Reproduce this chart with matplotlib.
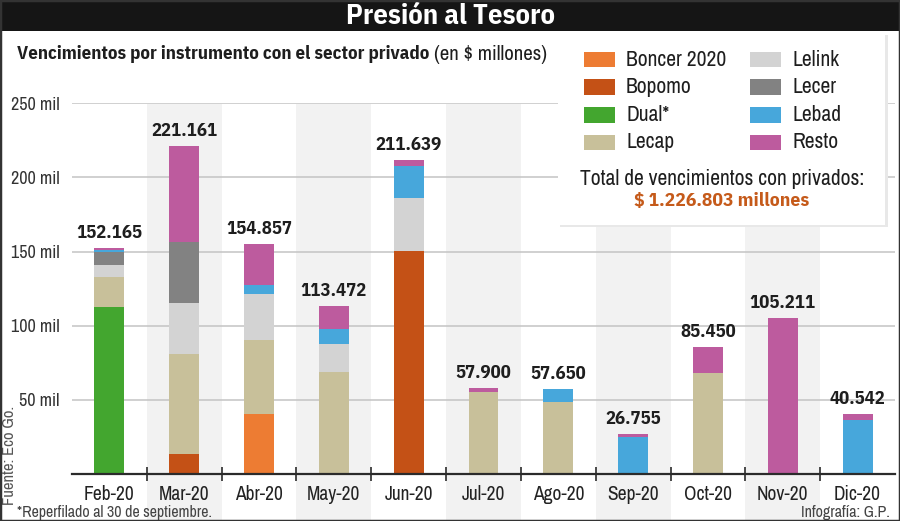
import numpy as np
import matplotlib
matplotlib.use('Agg')
import matplotlib.pyplot as plt
from matplotlib.patches import Rectangle

plt.rcParams['font.family'] = ['Archivo Narrow', 'DejaVu Sans']
NEGRITA = ['IBM Plex Sans Condensed', 'DejaVu Sans']

# datos (miles de millones de $)
meses = ['Feb-20', 'Mar-20', 'Abr-20', 'May-20', 'Jun-20', 'Jul-20',
         'Ago-20', 'Sep-20', 'Oct-20', 'Nov-20', 'Dic-20']
boncer = [0, 0, 40.3, 0, 0, 0, 0, 0, 0, 0, 0]
bopomo = [0, 13.3, 0, 0, 150.3, 0, 0, 0, 0, 0, 0]
dual = [112.4, 0, 0, 0, 0, 0, 0, 0, 0, 0, 0]
lecap = [20.7, 67.4, 50.0, 68.9, 0, 55.4, 48.6, 0, 67.8, 0, 0]
lelink = [7.9, 34.8, 30.9, 18.7, 36.0, 0, 0, 0, 0, 0, 0]
lecer = [9.0, 40.9, 0, 0, 0, 0, 0, 0, 0, 0, 0]
lebad = [1.3, 0, 6.5, 10.0, 21.1, 0, 8.6, 25.0, 0, 0, 36.3]
resto = [0.865, 64.861, 27.157, 15.872, 4.239, 2.5, 0.45, 1.755, 17.65, 105.211, 4.242]
totales = ['152.165', '221.161', '154.857', '113.472', '211.639', '57.900',
           '57.650', '26.755', '85.450', '105.211', '40.542']

series = [('Boncer 2020', boncer, '#ED7C33'),
          ('Bopomo', bopomo, '#C45116'),
          ('Dual*', dual, '#43A62F'),
          ('Lecap', lecap, '#C8C09A'),
          ('Lelink', lelink, '#D3D3D3'),
          ('Lecer', lecer, '#828282'),
          ('Lebad', lebad, '#47A7DB'),
          ('Resto', resto, '#BD5B9E')]

W, H = 900, 521
fig = plt.figure(figsize=(9, 5.21), dpi=100)


def px(x, y):
    return x / W, 1 - y / H


# ejes
y0, y250 = 474, 103.3
ax = fig.add_axes([72 / W, 1 - y0 / H, (895 - 72) / W, (y0 - y250) / H])
ax.set_xlim(-0.5, len(meses) - 0.5)
ax.set_ylim(0, 250)
for s in ax.spines.values():
    s.set_visible(False)
ax.patch.set_alpha(0)

x = np.arange(len(meses))
for i in x:
    if i % 2 == 1:
        ax.axvspan(i - 0.5, i + 0.5, ymin=-0.13, ymax=0.997, color='#F2F2F2',
                   lw=0, zorder=0, clip_on=False)

for v in [50, 100, 150, 200, 250]:
    ax.axhline(v, color='#C4C4C4', lw=1.1, zorder=1)
ax.set_yticks([50, 100, 150, 200, 250])
ax.set_yticklabels(['50 mil', '100 mil', '150 mil', '200 mil', '250 mil'])
ax.tick_params(axis='y', length=0, pad=9, labelsize=13, labelcolor='#333333')

bottom = np.zeros(len(meses))
for nombre, vals, color in series:
    vals = np.array(vals)
    ax.bar(x, vals, 0.4, bottom=bottom, color=color, zorder=3, lw=0)
    bottom += vals

for i, t in enumerate(totales):
    ax.text(x[i], bottom[i] + 4.0, t, ha='center', va='bottom', fontsize=13.5,
            fontweight='bold', family=NEGRITA, color='#1E1E1E', zorder=5)

ax.axhline(0, color='#2B2B2B', lw=1.6, zorder=4, clip_on=False)
ax.set_xticks(x)
ax.set_xticklabels(meses)
ax.set_xticks(x[:-1] + 0.5, minor=True)
ax.tick_params(axis='x', which='major', length=0, pad=8, labelsize=14,
               labelcolor='#222222')
ax.tick_params(axis='x', which='minor', direction='inout', length=10,
               width=1.2, color='#2B2B2B')

# barra de titulo
fig.patches.append(Rectangle(px(0, 31), 1, 31 / H, transform=fig.transFigure,
                             facecolor='#151515', edgecolor='none', zorder=0))
fig.text(*px(450, 16), 'Presión al Tesoro', ha='center', va='center',
         fontsize=20.5, fontweight='bold', family=NEGRITA, color='white')

sub = fig.text(*px(17, 54), 'Vencimientos por instrumento con el sector privado',
               ha='left', va='center', fontsize=13.5, fontweight='bold',
               family=NEGRITA, color='#1E1E1E')
r = fig.canvas.get_renderer()
bb = sub.get_window_extent(renderer=r)
fig.text((bb.x1 + 5) / W, 1 - 54 / H, '(en $ millones)', ha='left',
         va='center', fontsize=15, color='#1E1E1E')

# leyenda
fig.patches.append(Rectangle(px(560, 227), (885 - 557) / W, (227 - 35) / H,
                             transform=fig.transFigure, facecolor='#E8E8E8',
                             edgecolor='none', zorder=6))
fig.patches.append(Rectangle(px(558, 225), (885 - 558) / W, (225 - 33) / H,
                             transform=fig.transFigure, facecolor='white',
                             edgecolor='none', zorder=7))
filas = [60, 87, 115, 142]
for k, (nombre, vals, color) in enumerate(series):
    col, fila = divmod(k, 4)
    xp = 584 if col == 0 else 750
    yc = filas[fila]
    fig.patches.append(Rectangle(px(xp, yc + 7.5), 31 / W, 15 / H,
                                 transform=fig.transFigure, facecolor=color,
                                 edgecolor='none', zorder=8))
    fig.text(*px(xp + 42, yc), nombre, ha='left', va='center', fontsize=15.5,
             color='#1E1E1E', zorder=9)
fig.text(*px(722, 179), 'Total de vencimientos con privados:', ha='center',
         va='center', fontsize=15.5, color='#1E1E1E', zorder=9)
fig.text(*px(722, 201), '$ 1.226.803 millones', ha='center', va='center',
         fontsize=14, fontweight='bold', family=NEGRITA, color='#C55A1A',
         zorder=9)

# pie
fig.text(*px(17, 512), '*Reperfilado al 30 de septiembre.', ha='left',
         va='center', fontsize=11.5, color='#444444')
fig.text(*px(890, 512), 'Infografía: G.P.', ha='right', va='center',
         fontsize=11.5, color='#444444')
fig.text(*px(10, 505), 'Fuente: Eco Go.', ha='center', va='bottom',
         rotation=90, fontsize=12, color='#555555')

fig.patches.append(Rectangle((0, 0), 1, 1, transform=fig.transFigure,
                             facecolor='none', edgecolor='#333333', lw=2.5,
                             zorder=10))

fig.savefig('out.png', dpi=100)
